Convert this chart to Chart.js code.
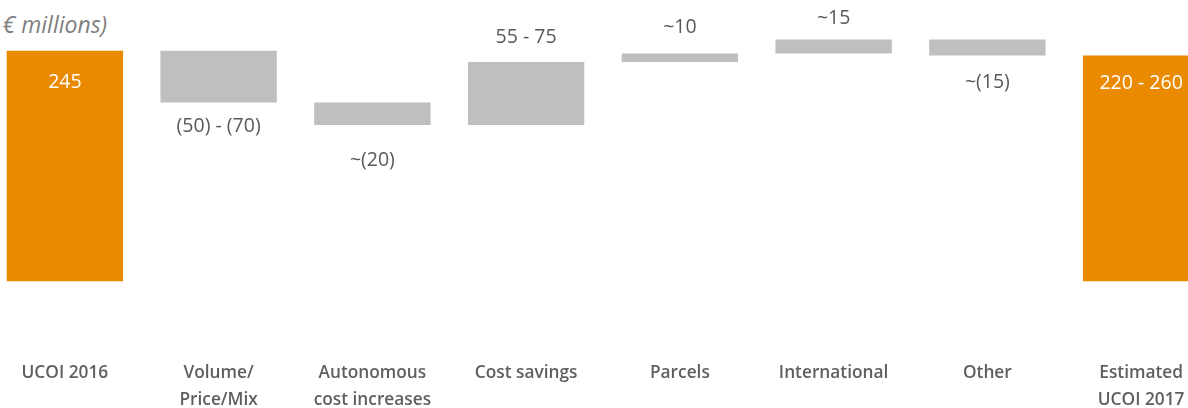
<!DOCTYPE html>
<html>
<head>
<meta charset="utf-8">
<script src="https://cdn.jsdelivr.net/npm/chart.js@4"></script>
<style>
  html, body { margin: 0; padding: 0; overflow: hidden; background: #fff; width: 1188px; height: 408px; }
  #wrap { position: absolute; left: -12px; top: 0; width: 1230px; height: 420px; }
  #title { position: absolute; top: 8px; left: 0; white-space: nowrap; font-family: 'Open Sans', sans-serif; font-style: italic; font-size: 23px; color: #7f7f7f; line-height: 32px; }
</style>
</head>
<body>
<div id="title"><span id="pre">(in </span>€ millions)</div>
<div id="wrap"><canvas id="c"></canvas></div>
<script>
// ---- data ----
const categories = [
  'UCOI 2016',
  ['Volume/', 'Price/Mix'],
  ['Autonomous', 'cost increases'],
  'Cost savings',
  'Parcels',
  'International',
  'Other',
  ['Estimated', 'UCOI 2017']
];
const barStart = [0, 190, 166, 166, 233, 242, 240, 0];
const barEnd   = [245, 245, 190, 233, 242, 257, 257, 240];
const valueLabels = ['245', '(50) - (70)', '~(20)', '55 - 75', '~10', '~15', '~(15)', '220 - 260'];

// ---- styling ----
const ORANGE = '#EA8A00';
const GREY = '#BFBFBF';
const barColors = ['total', 'step', 'step', 'step', 'step', 'step', 'step', 'total'].map(t => t === 'total' ? ORANGE : GREY);
const labelPlace = ['inside', 'below', 'below', 'above', 'above', 'above', 'below', 'inside'];
const labelNudge = [32, 24, 35, -25, -26, -21, 27, 28];

const pre = document.getElementById('pre');
document.getElementById('title').style.left = (3 - pre.offsetWidth) + 'px';

const valueLabelPlugin = {
  id: 'valueLabels',
  afterDatasetsDraw(chart) {
    const ctx = chart.ctx;
    const meta = chart.getDatasetMeta(0);
    const ys = chart.scales.y;
    ctx.save();
    ctx.font = '500 19.5px "Open Sans", sans-serif';
    ctx.textAlign = 'center';
    ctx.textBaseline = 'middle';
    meta.data.forEach((el, i) => {
      const top = ys.getPixelForValue(Math.max(barStart[i], barEnd[i]));
      const bot = ys.getPixelForValue(Math.min(barStart[i], barEnd[i]));
      let y;
      if (labelPlace[i] === 'below') y = bot + labelNudge[i];
      else y = top + labelNudge[i];
      ctx.fillStyle = labelPlace[i] === 'inside' ? '#ffffff' : '#595959';
      ctx.fillText(valueLabels[i], el.x, y);
    });
    ctx.restore();
  }
};

new Chart(document.getElementById('c'), {
  type: 'bar',
  data: {
    labels: categories,
    datasets: [{
      data: barStart.map((s, i) => [s, barEnd[i]]),
      backgroundColor: barColors,
      borderWidth: 0,
      categoryPercentage: 1,
      barPercentage: 0.757
    }]
  },
  options: {
    responsive: true,
    maintainAspectRatio: false,
    animation: false,
    layout: { padding: { left: 0, right: 0, top: 0, bottom: 6.6 } },
    plugins: { legend: { display: false }, tooltip: { enabled: false } },
    scales: {
      x: {
        grid: { display: false, drawTicks: false },
        border: { display: false },
        ticks: {
          padding: 0,
          color: '#5f5f5f',
          font: { family: 'Open Sans', size: 17.3, weight: '600', lineHeight: 1.54 },
          maxRotation: 0,
          autoSkip: false
        }
      },
      y: {
        display: false,
        min: -84,
        max: 299
      }
    }
  },
  plugins: [valueLabelPlugin]
});
</script>
</body>
</html>
